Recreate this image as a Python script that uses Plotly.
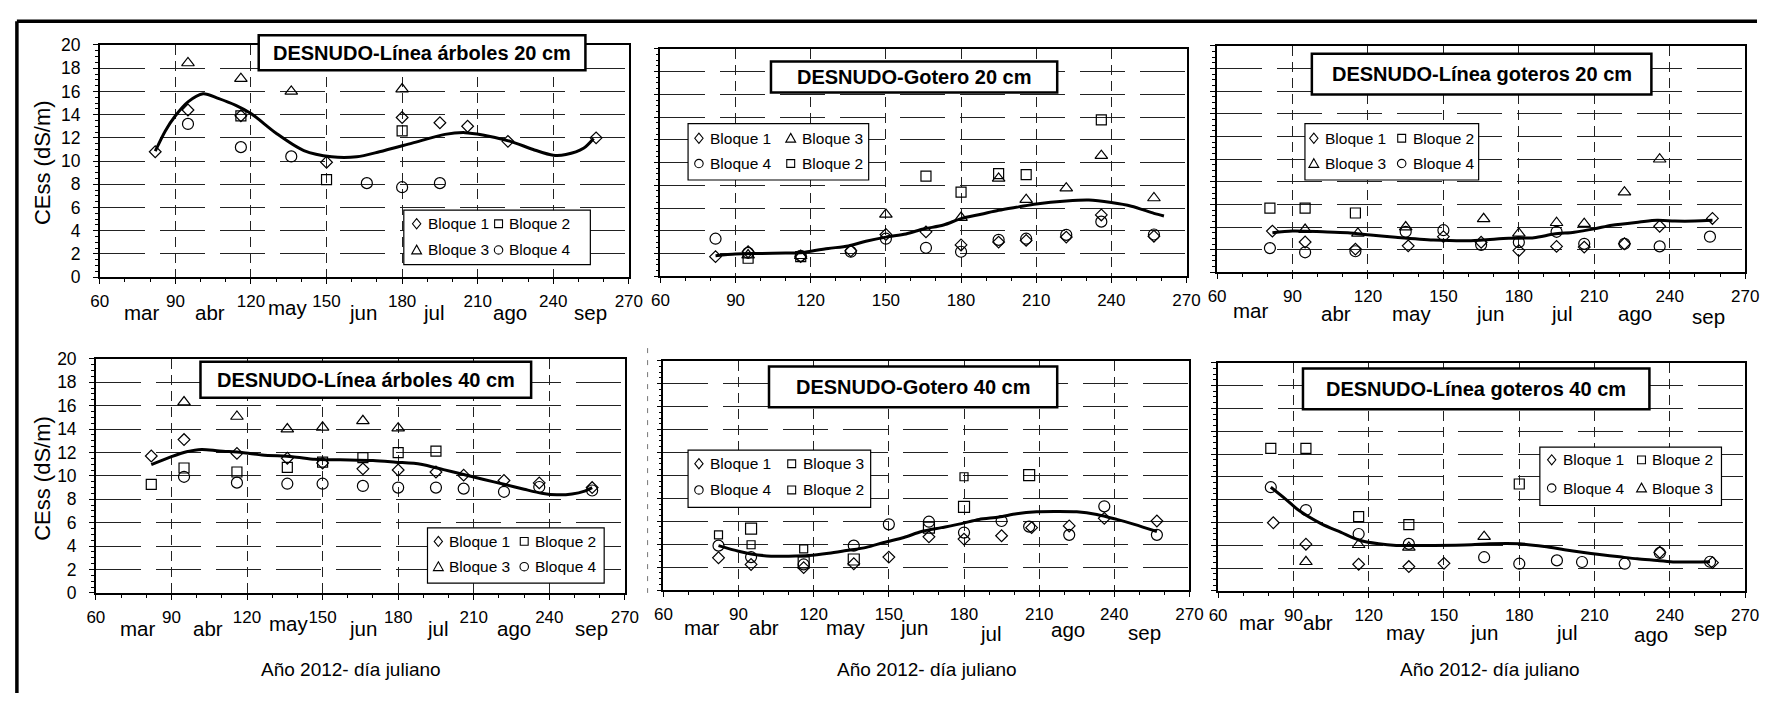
import plotly.graph_objects as go

W, H = 1771, 703

# ------------------------------------------------------------------ data
X_TICKS = [60, 90, 120, 150, 180, 210, 240, 270]
MONTHS = ["mar", "abr", "may", "jun", "jul", "ago", "sep"]
TITLES = ["DESNUDO-Línea árboles 20 cm", "DESNUDO-Gotero 20 cm", "DESNUDO-Línea goteros 20 cm",
          "DESNUDO-Línea árboles 40 cm", "DESNUDO-Gotero 40 cm", "DESNUDO-Línea goteros 40 cm"]
Y_TITLE = "CEss (dS/m)"
X_TITLE = "Año 2012- día juliano"

# Panel 1: DESNUDO-Línea árboles 20 cm
P1_B1_DAY = [82, 95, 116, 150, 180, 195, 206, 222, 257]
P1_B1_CE = [10.8, 14.4, 13.9, 9.9, 13.75, 13.3, 13.0, 11.7, 12.0]
P1_B2_DAY = [116, 150, 180]
P1_B2_CE = [13.9, 8.4, 12.6]
P1_B3_DAY = [95, 116, 136, 180]
P1_B3_CE = [18.45, 17.1, 16.0, 16.2]
P1_B4_DAY = [95, 116, 136, 166, 180, 195]
P1_B4_CE = [13.2, 11.2, 10.4, 8.1, 7.75, 8.1]
P1_TREND_DAY = [82, 86, 90, 95, 101, 107, 114, 120, 130, 141, 152, 162, 171, 184, 197, 205, 212, 223, 232, 240, 245, 252, 256]
P1_TREND_CE = [10.85, 12.6, 13.9, 15.1, 15.8, 15.4, 14.8, 14.1, 12.4, 10.9, 10.37, 10.37, 10.8, 11.55, 12.3, 12.45, 12.25, 11.7, 11.0, 10.5, 10.56, 11.1, 11.95]

# Panel 2: DESNUDO-Gotero 20 cm
P2_B1_DAY = [82, 95, 116, 136, 150, 166, 180, 195, 206, 222, 236, 257]
P2_B1_CE = [1.72, 2.15, 1.72, 2.23, 3.67, 3.9, 2.75, 3.0, 3.15, 3.44, 5.39, 3.52]
P2_B3_DAY = [95, 116, 150, 180, 195, 206, 222, 236, 257]
P2_B3_CE = [1.86, 1.8, 5.44, 5.16, 8.6, 6.73, 7.74, 10.6, 6.88]
P2_B4_DAY = [82, 95, 116, 136, 150, 166, 180, 195, 206, 222, 236, 257]
P2_B4_CE = [3.3, 2.06, 1.8, 2.15, 3.3, 2.5, 2.15, 3.2, 3.3, 3.64, 4.8, 3.67]
P2_B2_DAY = [95, 116, 166, 180, 195, 206, 236]
P2_B2_CE = [1.58, 1.72, 8.8, 7.4, 9.03, 8.94, 13.75]
P2_TREND_DAY = [82, 90, 100, 110, 116, 120, 127, 135, 142, 150, 158, 165, 173, 180, 188, 195, 203, 210, 222, 231, 240, 248, 257, 261]
P2_TREND_CE = [1.8, 1.95, 2.0, 2.05, 2.06, 2.2, 2.44, 2.66, 3.07, 3.44, 3.72, 4.15, 4.5, 5.07, 5.45, 5.8, 6.1, 6.36, 6.62, 6.7, 6.48, 6.16, 5.53, 5.3]

# Panel 3: DESNUDO-Línea goteros 20 cm
P3_B1_DAY = [82, 95, 115, 136, 150, 165, 180, 195, 206, 222, 236, 257]
P3_B1_CE = [3.64, 2.68, 2.05, 2.34, 3.15, 2.66, 1.92, 2.29, 2.23, 2.52, 4.07, 4.76]
P3_B2_DAY = [81, 95, 115]
P3_B2_CE = [5.68, 5.68, 5.24]
P3_B3_DAY = [95, 116, 135, 166, 180, 195, 206, 222, 236]
P3_B3_CE = [3.78, 3.44, 4.0, 4.73, 3.44, 4.38, 4.3, 7.08, 9.99]
P3_B4_DAY = [81, 95, 115, 135, 150, 165, 180, 195, 206, 222, 236, 256]
P3_B4_CE = [2.14, 1.77, 1.86, 3.58, 3.72, 2.43, 2.66, 3.58, 2.52, 2.52, 2.29, 3.15]
P3_TREND_DAY = [82, 90, 102, 112, 121, 131, 146, 161, 176, 186, 194, 202, 210, 217, 228, 235, 242, 250, 257]
P3_TREND_CE = [3.5, 3.64, 3.58, 3.5, 3.3, 3.1, 2.86, 2.8, 3.0, 3.06, 3.38, 3.55, 3.84, 4.16, 4.44, 4.59, 4.53, 4.53, 4.59]

# Panel 4: DESNUDO-Línea árboles 40 cm
P4_B1_DAY = [82, 95, 116, 136, 150, 166, 180, 195, 206, 222, 236, 257]
P4_B1_CE = [11.7, 13.1, 11.92, 11.5, 11.09, 10.6, 10.5, 10.33, 10.06, 9.6, 9.4, 9.0]
P4_B2_DAY = [82, 95, 116, 136, 150, 166, 180, 195]
P4_B2_CE = [9.28, 10.67, 10.33, 10.72, 11.17, 11.56, 11.98, 12.12]
P4_B3_DAY = [95, 116, 136, 150, 166, 180]
P4_B3_CE = [16.3, 15.07, 14.0, 14.15, 14.7, 14.07]
P4_B4_DAY = [95, 116, 136, 150, 166, 180, 195, 206, 222, 236, 257]
P4_B4_CE = [9.92, 9.42, 9.33, 9.33, 9.14, 9.0, 9.0, 8.91, 8.64, 9.05, 8.75]
P4_TREND_DAY = [82, 90, 96, 102, 109, 118, 126, 138, 147, 157, 170, 179, 189, 198, 206, 214, 222, 230, 237, 243, 249, 254, 257]
P4_TREND_CE = [10.95, 11.64, 12.06, 12.26, 12.12, 12.0, 11.78, 11.64, 11.42, 11.37, 11.31, 11.17, 11.0, 10.53, 10.11, 9.69, 9.28, 8.86, 8.52, 8.38, 8.45, 8.7, 9.0]

# Panel 5: DESNUDO-Gotero 40 cm
P5_B1_DAY = [82, 95, 116, 136, 150, 166, 180, 195, 207, 222, 236, 257]
P5_B1_CE = [2.81, 2.23, 1.95, 2.29, 2.87, 4.64, 4.44, 4.73, 5.44, 5.59, 6.25, 6.02]
P5_B3_DAY = [82, 95, 116, 180]
P5_B3_CE = [4.81, 3.95, 3.58, 9.88]
P5_B4_DAY = [82, 95, 116, 136, 150, 166, 180, 195, 206, 222, 236, 257]
P5_B4_CE = [3.87, 2.87, 2.23, 3.87, 5.73, 5.96, 5.01, 6.02, 5.53, 4.81, 7.3, 4.81]
P5_B2_DAY = [95, 116, 136, 166, 180, 206]
P5_B2_CE = [5.36, 2.4, 2.66, 5.44, 7.25, 10.03]
P5_TREND_DAY = [82, 90, 95, 103, 110, 118, 126, 133, 141, 148, 156, 163, 171, 179, 186, 194, 201, 209, 216, 225, 233, 241, 248, 257]
P5_TREND_CE = [3.87, 3.38, 3.15, 2.95, 2.95, 3.0, 3.2, 3.44, 3.72, 4.15, 4.58, 5.1, 5.44, 5.79, 6.16, 6.36, 6.65, 6.82, 6.85, 6.82, 6.59, 6.16, 5.73, 5.1]

# Panel 6: DESNUDO-Línea goteros 40 cm
P6_B1_DAY = [82, 95, 116, 136, 150, 236, 257]
P6_B1_CE = [5.98, 4.1, 2.34, 2.14, 2.42, 3.39, 2.48]
P6_B2_DAY = [81, 95, 116, 136, 180]
P6_B2_CE = [12.5, 12.5, 6.52, 5.81, 9.37]
P6_B4_DAY = [81, 95, 116, 136, 166, 180, 195, 205, 222, 236, 256]
P6_B4_CE = [9.09, 7.09, 4.99, 4.13, 2.96, 2.39, 2.68, 2.54, 2.39, 3.33, 2.56]
P6_B3_DAY = [95, 116, 136, 166]
P6_B3_CE = [2.56, 4.05, 3.82, 4.76]
P6_TREND_DAY = [81, 87, 92, 101, 109, 116, 124, 131, 138, 146, 161, 168, 180, 190, 198, 205, 212, 220, 227, 235, 242, 250, 256]
P6_TREND_CE = [9.09, 8.03, 7.09, 5.9, 5.13, 4.47, 4.13, 3.99, 3.99, 3.99, 4.05, 4.13, 4.13, 3.9, 3.62, 3.39, 3.19, 2.99, 2.82, 2.68, 2.54, 2.54, 2.56]

# ------------------------------------------------------------------ layout helpers
FONT = "Liberation Sans, Arial, sans-serif"


def fx(px):
    return min(1.0, max(0.0, px / W))


def fy(py):
    return min(1.0, max(0.0, 1 - py / H))


# plot-area rectangles in pixels (left, top, right, bottom)
PANEL_RECT = [(92, 36, 628, 275), (660, 40, 1193, 274), (1224, 37, 1759, 270),
              (88, 359, 624, 600), (663, 361, 1196, 597), (1225, 363, 1759, 598)]

SYM = {"B1": ("diamond-open", 9), "B2": ("square-open", 10),
       "B3": ("triangle-up-open", 11), "B4": ("circle-open", 11)}

SERIES = [
    [("B1", P1_B1_DAY, P1_B1_CE), ("B2", P1_B2_DAY, P1_B2_CE), ("B3", P1_B3_DAY, P1_B3_CE), ("B4", P1_B4_DAY, P1_B4_CE)],
    [("B1", P2_B1_DAY, P2_B1_CE), ("B3", P2_B3_DAY, P2_B3_CE), ("B4", P2_B4_DAY, P2_B4_CE), ("B2", P2_B2_DAY, P2_B2_CE)],
    [("B1", P3_B1_DAY, P3_B1_CE), ("B2", P3_B2_DAY, P3_B2_CE), ("B3", P3_B3_DAY, P3_B3_CE), ("B4", P3_B4_DAY, P3_B4_CE)],
    [("B1", P4_B1_DAY, P4_B1_CE), ("B2", P4_B2_DAY, P4_B2_CE), ("B3", P4_B3_DAY, P4_B3_CE), ("B4", P4_B4_DAY, P4_B4_CE)],
    [("B1", P5_B1_DAY, P5_B1_CE), ("B3s", P5_B3_DAY, P5_B3_CE), ("B4", P5_B4_DAY, P5_B4_CE), ("B2", P5_B2_DAY, P5_B2_CE)],
    [("B1", P6_B1_DAY, P6_B1_CE), ("B2", P6_B2_DAY, P6_B2_CE), ("B4", P6_B4_DAY, P6_B4_CE), ("B3", P6_B3_DAY, P6_B3_CE)],
]
TRENDS = [(P1_TREND_DAY, P1_TREND_CE), (P2_TREND_DAY, P2_TREND_CE), (P3_TREND_DAY, P3_TREND_CE),
          (P4_TREND_DAY, P4_TREND_CE), (P5_TREND_DAY, P5_TREND_CE), (P6_TREND_DAY, P6_TREND_CE)]

# title boxes (px)
TITLE_BOX = [(253, 26, 584, 62), (772, 53, 1062, 85), (1320, 45, 1664, 87),
             (194, 362, 529, 399), (770, 367, 1062, 409), (1311, 369, 1662, 411)]

# legend boxes (px) and entries: (symbol, label) in row-major order
LEG_BOX = [(400, 206, 589, 262), (688, 117, 871, 175), (1313, 117, 1489, 175),
           (424, 533, 603, 590), (688, 453, 873, 512), (1551, 450, 1735, 510)]
LEG_ROWS = [(220, 247), (132, 158), (132, 158), (547, 573), (467, 494), (463, 492)]
LEG_COLS = [(413, 496), (699, 792), (1322, 1411), (435, 522), (699, 793), (1563, 1654)]
LEG_ENTRIES = [
    [("B1", "Bloque 1"), ("B2", "Bloque 2"), ("B3", "Bloque 3"), ("B4", "Bloque 4")],
    [("B1", "Bloque 1"), ("B3", "Bloque 3"), ("B4", "Bloque 4"), ("B2", "Bloque 2")],
    [("B1", "Bloque 1"), ("B2", "Bloque 2"), ("B3", "Bloque 3"), ("B4", "Bloque 4")],
    [("B1", "Bloque 1"), ("B2", "Bloque 2"), ("B3", "Bloque 3"), ("B4", "Bloque 4")],
    [("B1", "Bloque 1"), ("B2", "Bloque 3"), ("B4", "Bloque 4"), ("B2", "Bloque 2")],
    [("B1", "Bloque 1"), ("B2", "Bloque 2"), ("B4", "Bloque 4"), ("B3", "Bloque 3")],
]

# month label positions (px centres) for panels that show them
MONTH_POS = {
    0: [(134, 311), (204, 311), (282, 306), (359, 311), (431, 311), (508, 311), (589, 311)],
    2: [(1258, 309), (1344, 312), (1421, 312), (1500, 312), (1573, 312), (1647, 312), (1722, 315)],
    3: [(130, 637), (202, 637), (283, 631), (359, 637), (435, 637), (512, 637), (590, 637)],
    4: [(702, 636), (765, 636), (848, 636), (917, 636), (995, 642), (1073, 638), (1150, 641)],
    5: [(1264, 630), (1326, 630), (1415, 641), (1494, 641), (1578, 641), (1664, 643), (1724, 637)],
}

fig = go.Figure()
shapes = []
annotations = []
layout_axes = {}

for i in range(6):
    n = "" if i == 0 else str(i + 1)
    L, T, R, B = PANEL_RECT[i]
    xa = dict(domain=[fx(L), fx(R)], range=[60, 270], tickvals=X_TICKS, anchor="y" + n,
              showline=True, linecolor="black", linewidth=1.5, mirror=True,
              ticks="outside", ticklen=5, tickcolor="black", tickwidth=1.2,
              showgrid=True, gridcolor="#222", gridwidth=1, griddash="10px,6px",
              zeroline=False, ticklabelstandoff=3,
              tickfont=dict(family=FONT, size=17, color="black"),
              minor=dict(dtick=10, tick0=60, ticks="outside", ticklen=3, tickcolor="black", showgrid=False))
    ya = dict(domain=[fy(B), fy(T)], range=[0, 20], dtick=2, tick0=0, anchor="x" + n,
              showline=True, linecolor="black", linewidth=1.5, mirror=True,
              ticks="outside", ticklen=5, tickcolor="black", tickwidth=1.2,
              showgrid=True, gridcolor="#222", gridwidth=1, griddash="45px,15px",
              zeroline=False, showticklabels=(i in (0, 3)), ticklabelstandoff=9,
              tickfont=dict(family=FONT, size=17.5, color="black"),
              minor=dict(dtick=0.5, tick0=0, ticks="outside", ticklen=3, tickcolor="black", showgrid=False))
    layout_axes["xaxis" + n] = xa
    layout_axes["yaxis" + n] = ya

    for key, days, ce in SERIES[i]:
        if key == "B3s":
            sym, size = "square-open", 8
        elif i == 4 and key == "B2":
            sym, size = "square-open", 11
        else:
            sym, size = SYM[key]
        fig.add_trace(go.Scatter(x=days, y=ce, mode="markers", xaxis="x" + n, yaxis="y" + n,
                                 marker=dict(symbol=sym, size=size, color="black",
                                             line=dict(color="black", width=1.2)),
                                 showlegend=False, cliponaxis=False, hoverinfo="skip"))
    td, tc = TRENDS[i]
    fig.add_trace(go.Scatter(x=td, y=tc, mode="lines", xaxis="x" + n, yaxis="y" + n,
                             line=dict(color="black", width=3, shape="spline", smoothing=0.8),
                             showlegend=False, hoverinfo="skip"))

    # title box
    x0, y0, x1, y1 = TITLE_BOX[i]
    shapes.append(dict(type="rect", xref="paper", yref="paper", x0=fx(x0), x1=fx(x1), y0=fy(y1), y1=fy(y0),
                       line=dict(color="black", width=2.5), fillcolor="white", layer="above"))
    annotations.append(dict(text="<b>%s</b>" % TITLES[i], xref="paper", yref="paper",
                            x=fx((x0 + x1) / 2), y=fy((y0 + y1) / 2), xanchor="center", yanchor="middle",
                            showarrow=False, font=dict(family=FONT, size=20, color="black")))

    # legend box
    x0, y0, x1, y1 = LEG_BOX[i]
    shapes.append(dict(type="rect", xref="paper", yref="paper", x0=fx(x0), x1=fx(x1), y0=fy(y1), y1=fy(y0),
                       line=dict(color="black", width=1.2), fillcolor="white", layer="above"))
    for k, (sk, label) in enumerate(LEG_ENTRIES[i]):
        ry = LEG_ROWS[i][k // 2]
        cx = LEG_COLS[i][k % 2]
        s = 4.2
        if sk == "B1":
            path = "M %f %f L %f %f L %f %f L %f %f Z" % (fx(cx), fy(ry - s - 1), fx(cx + s), fy(ry),
                                                       fx(cx), fy(ry + s + 1), fx(cx - s), fy(ry))
            shapes.append(dict(type="path", xref="paper", yref="paper", path=path,
                               line=dict(color="black", width=1.1), layer="above"))
        elif sk == "B2":
            shapes.append(dict(type="rect", xref="paper", yref="paper", x0=fx(cx - 4), x1=fx(cx + 4),
                               y0=fy(ry + 4), y1=fy(ry - 4), line=dict(color="black", width=1.1), layer="above"))
        elif sk == "B3":
            path = "M %f %f L %f %f L %f %f Z" % (fx(cx), fy(ry - 5), fx(cx + 5), fy(ry + 4), fx(cx - 5), fy(ry + 4))
            shapes.append(dict(type="path", xref="paper", yref="paper", path=path,
                               line=dict(color="black", width=1.1), layer="above"))
        else:
            shapes.append(dict(type="circle", xref="paper", yref="paper", x0=fx(cx - 4.3), x1=fx(cx + 4.3),
                               y0=fy(ry + 4.3), y1=fy(ry - 4.3), line=dict(color="black", width=1.1), layer="above"))
        annotations.append(dict(text=label, xref="paper", yref="paper", x=fx(cx + 9), y=fy(ry),
                                xanchor="left", yanchor="middle", showarrow=False,
                                font=dict(family=FONT, size=15.5, color="black")))

    # month labels
    if i in MONTH_POS:
        for m, (mx, my) in zip(MONTHS, MONTH_POS[i]):
            annotations.append(dict(text=m, xref="paper", yref="paper", x=fx(mx), y=fy(my),
                                    xanchor="center", yanchor="middle", showarrow=False,
                                    font=dict(family=FONT, size=20.5, color="black")))

# axis titles
for (cx, cy) in [(34, 157), (34, 482)]:
    annotations.append(dict(text=Y_TITLE, xref="paper", yref="paper", x=fx(cx), y=fy(cy), textangle=-90,
                            xanchor="center", yanchor="middle", showarrow=False,
                            font=dict(family=FONT, size=22, color="black")))
for cx in [346, 930, 1500]:
    annotations.append(dict(text=X_TITLE, xref="paper", yref="paper", x=fx(cx), y=fy(679),
                            xanchor="center", yanchor="middle", showarrow=False,
                            font=dict(family=FONT, size=19, color="black")))

# figure frame (top and left) and the faint dashed stroke left of the lower middle panel
shapes.append(dict(type="line", xref="paper", yref="paper", x0=fx(8), x1=1, y0=fy(11.5), y1=fy(11.5),
                   line=dict(color="black", width=3.5), layer="above"))
shapes.append(dict(type="line", xref="paper", yref="paper", x0=fx(8), x1=fx(8), y0=fy(11.5), y1=0,
                   line=dict(color="black", width=3.5), layer="above"))
shapes.append(dict(type="line", xref="paper", yref="paper", x0=fx(647), x1=fx(647), y0=fy(348), y1=fy(600),
                   line=dict(color="#777", width=1, dash="5px,7px"), layer="above"))

fig.update_layout(width=W, height=H, autosize=False, margin=dict(l=0, r=0, t=0, b=0),
                  paper_bgcolor="white", plot_bgcolor="white", showlegend=False, hovermode=False,
                  shapes=shapes, annotations=annotations, font=dict(family=FONT, color="black"),
                  **layout_axes)

# the page body gets no default margin, so the figure fills the window exactly
fig.write_html("out.html", config={"displayModeBar": False},
               post_script="document.documentElement.style.margin='0';document.body.style.margin='0';"
                           "document.body.style.overflow='hidden';")
